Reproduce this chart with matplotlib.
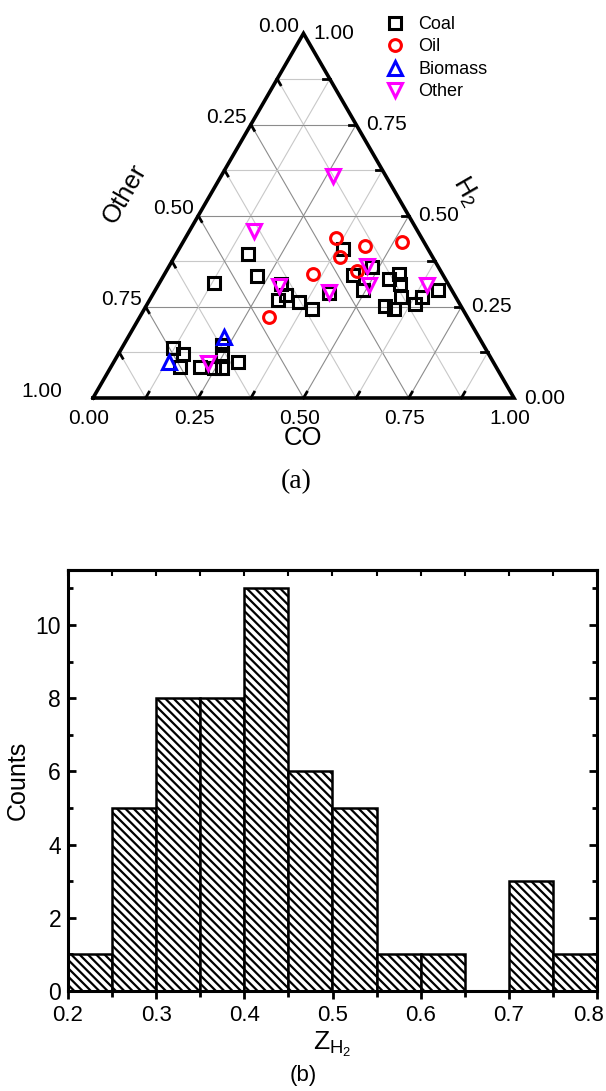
import numpy as np
import matplotlib
matplotlib.use('Agg')
import matplotlib.pyplot as plt
import matplotlib.transforms as mtrans
from matplotlib.ticker import MultipleLocator

plt.rcParams['font.family'] = ['Liberation Sans', 'DejaVu Sans']
plt.rcParams['mathtext.fontset'] = 'custom'
plt.rcParams['mathtext.rm'] = 'Liberation Sans'
plt.rcParams['mathtext.it'] = 'Liberation Sans:italic'
plt.rcParams['hatch.linewidth'] = 1.6

# ternary data as (CO, H2) fractions, Other = 1 - CO - H2
coal_co = [0.172, 0.222, 0.131, 0.390, 0.290, 0.318, 0.306, 0.358, 0.398, 0.416,
           0.450, 0.493, 0.482, 0.540, 0.558, 0.574, 0.593, 0.567, 0.593, 0.636,
           0.643, 0.673, 0.123, 0.154, 0.165, 0.212, 0.246, 0.245, 0.265, 0.295,
           0.233]
coal_h2 = [0.394, 0.335, 0.315, 0.409, 0.313, 0.283, 0.269, 0.264, 0.244, 0.289,
           0.336, 0.297, 0.360, 0.326, 0.339, 0.312, 0.276, 0.251, 0.244, 0.257,
           0.276, 0.295, 0.136, 0.121, 0.084, 0.084, 0.082, 0.122, 0.081, 0.100,
           0.145]
oil_co = [0.358, 0.437, 0.520, 0.392, 0.354, 0.452, 0.307]
oil_h2 = [0.438, 0.418, 0.427, 0.388, 0.339, 0.348, 0.223]
bio_co = [0.226, 0.130]
bio_h2 = [0.168, 0.099]
oth_co = [0.266, 0.154, 0.289, 0.414, 0.471, 0.501, 0.640, 0.226]
oth_h2 = [0.609, 0.458, 0.306, 0.291, 0.362, 0.310, 0.309, 0.095]

# histogram of Z_H2
bin_edges = [0.2, 0.25, 0.3, 0.35, 0.4, 0.45, 0.5, 0.55, 0.6, 0.65, 0.7, 0.75, 0.8]
counts = [1, 5, 8, 8, 11, 6, 5, 1, 1, 0, 3, 1]

tern_ticks = ['0.00', '0.25', '0.50', '0.75', '1.00']
hist_ticks = ['0.2', '0.3', '0.4', '0.5', '0.6', '0.7', '0.8']

S3 = np.sqrt(3) / 2


def txy(co, h2):
    co = np.asarray(co, float)
    h2 = np.asarray(h2, float)
    return co + h2 / 2, h2 * S3


fig = plt.figure(figsize=(6.06, 10.91), dpi=100)

# ---- (a) ternary ----
ax1 = fig.add_axes([0, 591 / 1091, 1, 500 / 1091])
ax1.set_xlim(-93 / 421, 513 / 421)
ax1.set_ylim(-102 / 421, 398 / 421)
ax1.axis('off')

# grid lines every 0.125
for k in range(1, 8):
    t = k / 8
    col = '#8c8c8c' if k % 2 == 0 else '#c8c8c8'
    x, y = txy([0, 1 - t], [t, t])          # H2 = t
    ax1.plot(x, y, color=col, lw=0.8, zorder=1)
    x, y = txy([t, t], [0, 1 - t])          # CO = t
    ax1.plot(x, y, color=col, lw=0.8, zorder=1)
    x, y = txy([1 - t, 0], [0, 1 - t])      # Other = t
    ax1.plot(x, y, color=col, lw=0.8, zorder=1)

    # small ticks on edges
    L = 0.016
    x, y = txy([1 - t, 1 - t - L], [t, t])
    ax1.plot(x, y, color='k', lw=2, zorder=3)
    x, y = txy([t, t], [0, L])
    ax1.plot(x, y, color='k', lw=2, zorder=3)
    x, y = txy([0, L], [1 - t, 1 - t - L])
    ax1.plot(x, y, color='k', lw=2, zorder=3)

# frame
x, y = txy([0, 1, 0, 0], [0, 0, 1, 0])
ax1.plot(x, y, color='k', lw=2.6, zorder=4, solid_joinstyle='miter')

# tick labels
for i, lab in enumerate(tern_ticks):
    v = i / 4
    x, y = txy(v, 0)
    ax1.annotate(lab, (x, y), xytext=(-3, -14.5), textcoords='offset points',
                 ha='center', va='center', fontsize=15)
    x, y = txy(1 - v, v)
    ax1.annotate(lab, (x, y), xytext=(7, 0), textcoords='offset points',
                 ha='left', va='center', fontsize=15)
    x, y = txy(0, 1 - v)
    dx = -22 if i == 4 else -3
    ax1.annotate(lab, (x, y), xytext=(dx, 5), textcoords='offset points',
                 ha='right', va='center', fontsize=15)

ax1.text((303 - 93) / 421, (398 - 438) / 421, 'CO', ha='center', va='center',
         fontsize=18.5)
ax1.text((125 - 93) / 421, (398 - 194) / 421, 'Other', ha='center', va='center',
         fontsize=18.5, rotation=60)
ax1.text((466 - 93) / 421, (398 - 191) / 421, r'$\mathregular{H_2}$', ha='center',
         va='center', fontsize=18.5, rotation=-60)

mk = dict(ls='none', mfc='none', mew=2.2)
ax1.plot(*txy(coal_co, coal_h2), marker='s', ms=8, mec='k', label='Coal', zorder=5, **mk)
ax1.plot(*txy(oil_co, oil_h2), marker='o', ms=8.5, mec='#ff0000', label='Oil', zorder=6, **mk)
ax1.plot(*txy(bio_co, bio_h2), marker='^', ms=9.5, mec='#0000ff', label='Biomass', zorder=6, **mk)
ax1.plot(*txy(oth_co, oth_h2), marker='v', ms=9.5, mec='#ff00ff', label='Other', zorder=7, **mk)

ax1.legend(loc='upper left', bbox_to_anchor=(386 / 606, 1 - 16 / 500), frameon=False,
           fontsize=13, handlelength=1.0, handletextpad=0.8, labelspacing=0.3,
           borderpad=0, borderaxespad=0)

fig.text(296 / 606, 1 - 482 / 1091, '(a)', ha='center', va='center', fontsize=20,
         family='Liberation Serif')

# ---- (b) histogram ----
ax2 = fig.add_axes([68 / 606, 100 / 1091, 529 / 606, 421 / 1091])
ax2.bar(bin_edges[:-1], counts, width=0.05, align='edge', facecolor='white',
        edgecolor='k', lw=1.8, hatch='\\\\\\\\', zorder=2)
ax2.set_xlim(0.2, 0.8)
ax2.set_ylim(0, 11.5)
ax2.xaxis.set_minor_locator(MultipleLocator(0.05))
ax2.yaxis.set_major_locator(MultipleLocator(2))
ax2.yaxis.set_minor_locator(MultipleLocator(1))
ax2.set_xticks(np.arange(0.2, 0.81, 0.1))
ax2.set_xticklabels(hist_ticks)
for s in ax2.spines.values():
    s.set_linewidth(2.2)
    s.set_zorder(5)
ax2.tick_params(axis='x', which='major', direction='out', length=6, width=2,
                labelsize=16, pad=4)
ax2.tick_params(axis='x', which='minor', direction='out', length=4, width=2)
ax2.tick_params(axis='y', which='major', direction='in', length=6, width=2,
                labelsize=16.5, right=True, pad=5)
ax2.tick_params(axis='y', which='minor', direction='in', length=3.5, width=2,
                right=True)
# keep the last x label inside the picture
last = ax2.get_xticklabels()[-1]
last.set_transform(last.get_transform() +
                   mtrans.ScaledTranslation(-6 / 72, 0, fig.dpi_scale_trans))
top = ax2.secondary_xaxis('top')
top.set_xticks(np.arange(0.2, 0.81, 0.05))
top.tick_params(direction='in', length=4, width=1.5, labeltop=False)
top.spines['top'].set_linewidth(2.2)
ax2.set_ylabel('Counts', fontsize=18, labelpad=4)
ax2.set_xlabel(r'$\mathregular{Z_{H_2}}$', fontsize=19, labelpad=3)

fig.text(303 / 606, 1 - 1075 / 1091, '(b)', ha='center', va='center', fontsize=16)

fig.savefig('out.png', dpi=100)
